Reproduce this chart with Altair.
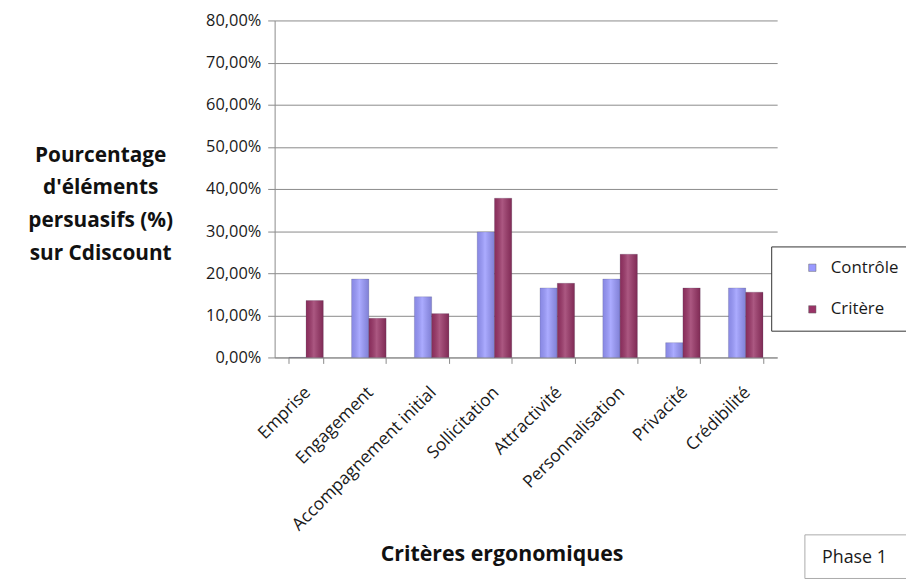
import altair as alt
import pandas as pd

categories = ["Emprise", "Engagement", "Accompagnement initial", "Sollicitation",
              "Attractivité", "Personnalisation", "Privacité", "Crédibilité"]
series = ["Contrôle", "Critère"]
controle = [0.0, 0.186, 0.144, 0.298, 0.165, 0.186, 0.035, 0.165]
critere = [0.135, 0.093, 0.104, 0.378, 0.176, 0.245, 0.165, 0.155]
colors = ["#9999FF", "#993366"]
y_ticks = [0, 0.1, 0.2, 0.3, 0.4, 0.5, 0.6, 0.7, 0.8]

rows = []
for i, c in enumerate(categories):
    rows.append({"cat": c, "serie": series[0], "val": controle[i]})
    rows.append({"cat": c, "serie": series[1], "val": critere[i]})
df = pd.DataFrame(rows)

FONT = "Open Sans"
GRAY = "#8a8a8a"

x_enc = alt.X("cat:N", sort=categories,
              scale=alt.Scale(paddingInner=0.45, paddingOuter=0.225),
              axis=alt.Axis(title="Critères  ergonomiques", labelAngle=-45, labelAlign="right",
                            labelBaseline="top", labelFontSize=17.5, labelFont=FONT,
                            labelColor="#1a1a1a", labelPadding=20, labelLimit=400,
                            labelOffset=-5,
                            tickBand="extent", tickSize=6, tickColor=GRAY,
                            domainColor=GRAY, titleFont=FONT, titleFontSize=21.5,
                            titleFontWeight="bold", titleColor="#111",
                            titleBaseline="middle", titleY=199, titleX=229))
xoff = alt.XOffset("serie:N", sort=series)
y_enc = alt.Y("val:Q", scale=alt.Scale(domain=[0, 0.8]),
              axis=alt.Axis(values=y_ticks,
                            labelExpr="replace(format(datum.value, '.2%'), '.', ',')",
                            labelFont=FONT, labelFontSize=16.5, labelColor="#1a1a1a",
                            tickSize=7, tickColor=GRAY, domainColor=GRAY,
                            gridColor=GRAY, gridWidth=1, labelPadding=7,
                            title=["Pourcentage", "d'éléments", "persuasifs (%)", "sur Cdiscount"],
                            titleAngle=0, titleAlign="center", titleBaseline="top",
                            titleX=-176, titleY=125, titleLineHeight=33,
                            titleFont=FONT, titleFontSize=21, titleFontWeight="bold",
                            titleColor="#111"))

bars = alt.Chart(df).mark_bar(stroke="#44445a", strokeWidth=0.4, strokeOpacity=0.5).encode(
    x=x_enc, xOffset=xoff, y=y_enc,
    color=alt.Color("serie:N", sort=series,
                    scale=alt.Scale(domain=series, range=colors),
                    legend=alt.Legend(title=None, orient="none", legendX=501, legendY=228,
                                      strokeColor="#333", padding=13, symbolType="square",
                                      symbolSize=55, symbolStrokeWidth=0.5,
                                      symbolStrokeColor="#666",
                                      labelFont=FONT, labelFontSize=17, labelColor="#1a1a1a",
                                      rowPadding=24, symbolOffset=20, labelOffset=10,
                                      fillColor="white")),
)

shade = alt.Chart(df).mark_bar(
    color=alt.Gradient(gradient="linear", x1=0, x2=1, y1=0, y2=0,
                       stops=[alt.GradientStop(color="rgba(0,0,0,0.10)", offset=0),
                              alt.GradientStop(color="rgba(255,255,255,0.18)", offset=0.45),
                              alt.GradientStop(color="rgba(0,0,0,0.16)", offset=1)])
).encode(x=x_enc, xOffset=xoff, y=y_enc)

phase_box = alt.Chart(pd.DataFrame({"t": ["Phase 1"]})).mark_rect(
    fill="white", stroke="#aaaaaa", strokeWidth=1, clip=False
).encode(x=alt.value(535), x2=alt.value(640), y=alt.value(519), y2=alt.value(563))

phase_text = alt.Chart(pd.DataFrame({"t": ["Phase 1"]})).mark_text(
    font=FONT, fontSize=18, color="#1a1a1a", align="center", baseline="middle", clip=False
).encode(x=alt.value(585), y=alt.value(542), text="t:N")

chart = alt.layer(bars, shade, phase_box, phase_text).properties(
    width=507, height=340,
    autosize=alt.AutoSizeParams(type="none"),
    padding={"left": 269, "top": 10, "right": 130, "bottom": 224},
    background="white",
).configure_view(stroke=None)

chart.save("out.html", embed_options={"renderer": "svg", "actions": False})
